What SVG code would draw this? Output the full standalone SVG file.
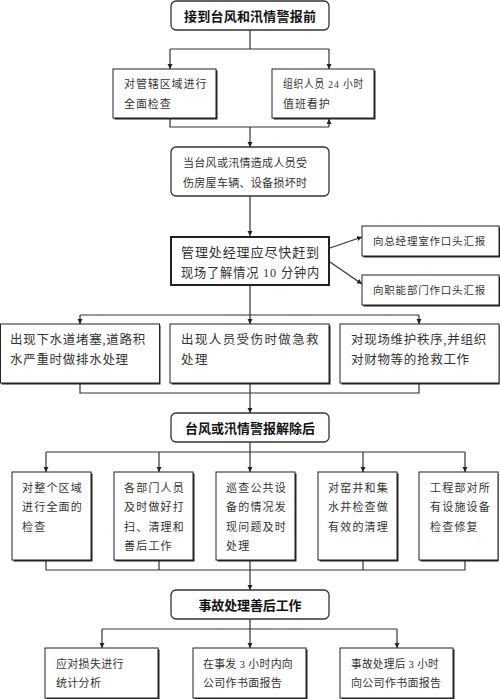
<svg xmlns="http://www.w3.org/2000/svg" width="500" height="699" viewBox="0 0 500 699">
<style>
.bg{fill:#ffffff}
.rbox{fill:#fff;stroke:#333;stroke-width:1.3}
.box{fill:#fff;stroke:#222;stroke-width:1}
.shadow{fill:#222}
.thick{fill:#fff;stroke:#222;stroke-width:2}
.ln{fill:none;stroke:#333;stroke-width:1.2}
text{font-family:"Liberation Serif","Noto Sans CJK SC",serif;fill:#333}
.b{font-family:"Liberation Sans","Noto Sans CJK SC",sans-serif;font-weight:bold;font-size:13px;fill:#111}
.t11{font-size:11px;letter-spacing:0.9px}
.t11b{font-size:11px;letter-spacing:0.3px}
.t13{font-size:13px;letter-spacing:0.9px}
.t10{font-size:10.5px;letter-spacing:0.8px}
.t12{font-size:12.5px;letter-spacing:0.7px}
.t12w{font-size:12.5px;letter-spacing:1.4px}
.t5{font-size:11px;letter-spacing:1.2px}
</style>
<defs>
<marker id="arr" markerUnits="userSpaceOnUse" markerWidth="6" markerHeight="6" refX="5" refY="2.5" orient="auto">
<path d="M0,0 L5,2.5 L0,5 z" fill="#222"/>
</marker>
</defs>
<rect class="bg" x="0" y="0" width="500" height="699"/>

<g id="connectors">
<path class="ln" d="M250,30 V49 M170,49 H329"/>
<path class="ln" d="M170,49 V69" marker-end="url(#arr)"/>
<path class="ln" d="M329,49 V69" marker-end="url(#arr)"/>
<path class="ln" d="M170,118 V127 H329"/>
<path class="ln" d="M329,127 V119" marker-end="url(#arr)"/>
<path class="ln" d="M250,127 V147" marker-end="url(#arr)"/>
<path class="ln" d="M250,196 V236" marker-end="url(#arr)"/>
<path class="ln" d="M330,248 L362,237" marker-end="url(#arr)"/>
<path class="ln" d="M330,262 L362,284" marker-end="url(#arr)"/>
<path class="ln" d="M80,315 H419"/>
<path class="ln" d="M250,286 V324" marker-end="url(#arr)"/>
<path class="ln" d="M80,315 V324" marker-end="url(#arr)"/>
<path class="ln" d="M419,315 V324" marker-end="url(#arr)"/>
<path class="ln" d="M80,384 V393 H419 V384"/>
<path class="ln" d="M250,384 V413" marker-end="url(#arr)"/>
<path class="ln" d="M250,442 V452 M46,452 H465"/>
<path class="ln" d="M46,452 V472" marker-end="url(#arr)"/>
<path class="ln" d="M159,452 V472" marker-end="url(#arr)"/>
<path class="ln" d="M250,452 V472" marker-end="url(#arr)"/>
<path class="ln" d="M363,452 V472" marker-end="url(#arr)"/>
<path class="ln" d="M465,452 V472" marker-end="url(#arr)"/>
<path class="ln" d="M46,561 V570 H465 V561 M159,561 V570 M363,561 V570"/>
<path class="ln" d="M250,561 V590" marker-end="url(#arr)"/>
<path class="ln" d="M250,619 V629 M102,629 H397"/>
<path class="ln" d="M102,629 V648" marker-end="url(#arr)"/>
<path class="ln" d="M250,629 V648" marker-end="url(#arr)"/>
<path class="ln" d="M397,629 V648" marker-end="url(#arr)"/>
</g>

<g id="n1">
<rect class="rbox" x="171" y="1" width="158" height="29" rx="5"/>
<text class="b" x="250" y="20.5" text-anchor="middle" textLength="132">接到台风和汛情警报前</text>
</g>

<g id="n2a">
<rect class="shadow" x="114.5" y="70.5" width="103" height="49"/>
<rect class="box" x="113" y="69" width="103" height="49"/>
<text class="t11" x="124" y="88">对管辖区域进行</text>
<text class="t11" x="124" y="108">全面检查</text>
</g>

<g id="n2b">
<rect class="shadow" x="273.5" y="70.5" width="102" height="49"/>
<rect class="box" x="272" y="69" width="102" height="49"/>
<text class="t11" x="283" y="88" textLength="81" lengthAdjust="spacingAndGlyphs">组织人员 24 小时</text>
<text class="t11" x="283" y="108">值班看护</text>
</g>

<g id="n3">
<rect class="rbox" x="171" y="147" width="158" height="49" rx="5"/>
<text class="t11b" x="183" y="167">当台风或汛情造成人员受</text>
<text class="t11b" x="183" y="187">伤房屋车辆、设备损坏时</text>
</g>

<g id="n4">
<rect class="thick" x="171" y="237" width="158" height="48"/>
<text class="t13" x="181" y="257" textLength="139">管理处经理应尽快赶到</text>
<text class="t13" x="181" y="277" textLength="139" lengthAdjust="spacingAndGlyphs">现场了解情况 10 分钟内</text>
</g>

<g id="n4a">
<rect class="shadow" x="363.5" y="227.5" width="137" height="30"/>
<rect class="box" x="362" y="226" width="137" height="30"/>
<text class="t10" x="373" y="245">向总经理室作口头汇报</text>
</g>

<g id="n4b">
<rect class="shadow" x="363.5" y="276.5" width="137" height="30"/>
<rect class="box" x="362" y="275" width="137" height="30"/>
<text class="t10" x="373" y="294">向职能部门作口头汇报</text>
</g>

<g id="n5a">
<rect class="shadow" x="1.5" y="325.5" width="159" height="59"/>
<rect class="box" x="0.5" y="324" width="159" height="59"/>
<text class="t12" x="10" y="343.5">出现下水道堵塞,道路积</text>
<text class="t12" x="10" y="363.5">水严重时做排水处理</text>
</g>

<g id="n5b">
<rect class="shadow" x="171.5" y="325.5" width="159" height="59"/>
<rect class="box" x="170" y="324" width="159" height="59"/>
<text class="t12w" x="181" y="343.5">出现人员受伤时做急救</text>
<text class="t12w" x="181" y="363.5">处理</text>
</g>

<g id="n5c">
<rect class="shadow" x="341.5" y="325.5" width="158" height="59"/>
<rect class="box" x="340" y="324" width="159" height="59"/>
<text class="t12" x="351" y="343.5">对现场维护秩序,并组织</text>
<text class="t12" x="351" y="363.5">对财物等的抢救工作</text>
</g>

<g id="n6">
<rect class="rbox" x="171" y="413" width="158" height="29" rx="5"/>
<text class="b" x="250" y="432.5" text-anchor="middle" textLength="130">台风或汛情警报解除后</text>
</g>

<g id="n7a">
<rect class="shadow" x="13.5" y="473.5" width="79" height="88"/>
<rect class="box" x="12" y="472" width="79" height="88"/>
<text class="t5" x="22" y="492">对整个区域</text>
<text class="t5" x="22" y="511">进行全面的</text>
<text class="t5" x="22" y="531">检查</text>
</g>

<g id="n7b">
<rect class="shadow" x="115.5" y="473.5" width="79" height="88"/>
<rect class="box" x="114" y="472" width="79" height="88"/>
<text class="t5" x="124" y="492">各部门人员</text>
<text class="t5" x="124" y="511">及时做好打</text>
<text class="t5" x="124" y="531">扫、清理和</text>
<text class="t5" x="124" y="550">善后工作</text>
</g>

<g id="n7c">
<rect class="shadow" x="217.5" y="473.5" width="79" height="88"/>
<rect class="box" x="216" y="472" width="79" height="88"/>
<text class="t5" x="226" y="492">巡查公共设</text>
<text class="t5" x="226" y="511">备的情况发</text>
<text class="t5" x="226" y="531">现问题及时</text>
<text class="t5" x="226" y="550">处理</text>
</g>

<g id="n7d">
<rect class="shadow" x="319.5" y="473.5" width="79" height="88"/>
<rect class="box" x="318" y="472" width="79" height="88"/>
<text class="t5" x="328" y="492">对窑井和集</text>
<text class="t5" x="328" y="511">水井检查做</text>
<text class="t5" x="328" y="531">有效的清理</text>
</g>

<g id="n7e">
<rect class="shadow" x="420.5" y="473.5" width="78" height="88"/>
<rect class="box" x="419" y="472" width="79" height="88"/>
<text class="t5" x="430" y="492">工程部对所</text>
<text class="t5" x="430" y="511">有设施设备</text>
<text class="t5" x="430" y="531">检查修复</text>
</g>

<g id="n8">
<rect class="rbox" x="171" y="590" width="158" height="29" rx="5"/>
<text class="b" x="250" y="609.5" text-anchor="middle" textLength="103">事故处理善后工作</text>
</g>

<g id="n9a">
<rect class="shadow" x="46.5" y="649.5" width="113" height="50"/>
<rect class="box" x="45" y="648" width="113" height="50"/>
<text class="t11b" x="56" y="668">应对损失进行</text>
<text class="t11b" x="56" y="687">统计分析</text>
</g>

<g id="n9b">
<rect class="shadow" x="194.5" y="649.5" width="113" height="50"/>
<rect class="box" x="193" y="648" width="113" height="50"/>
<text class="t11b" x="203" y="668" textLength="90" lengthAdjust="spacingAndGlyphs">在事发 3 小时内向</text>
<text class="t11b" x="203" y="687">公司作书面报告</text>
</g>

<g id="n9c">
<rect class="shadow" x="341.5" y="649.5" width="113" height="50"/>
<rect class="box" x="340" y="648" width="113" height="50"/>
<text class="t11b" x="351" y="668" textLength="88" lengthAdjust="spacingAndGlyphs">事故处理后 3 小时</text>
<text class="t11b" x="351" y="687">向公司作书面报告</text>
</g>
</svg>
